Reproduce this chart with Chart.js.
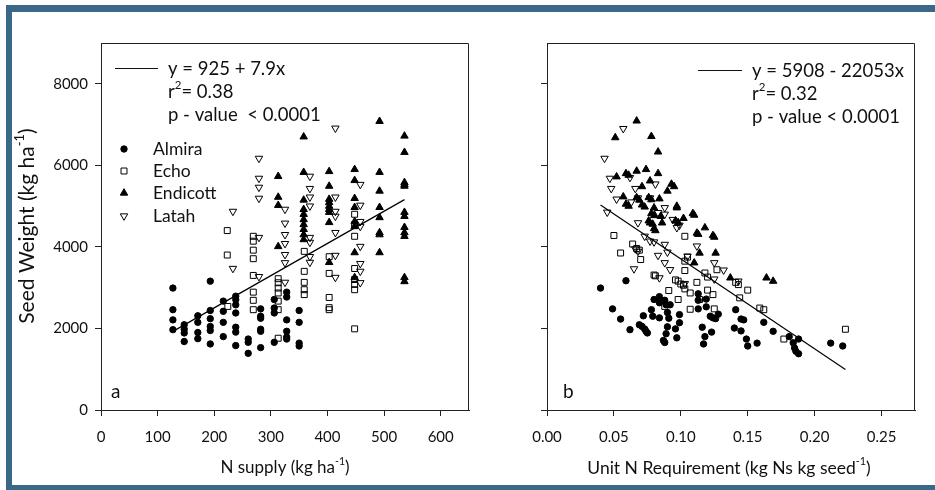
<!DOCTYPE html>
<html><head><meta charset="utf-8">
<script src="https://cdn.jsdelivr.net/npm/chart.js@4"></script>
<style>
html,body{margin:0;padding:0;background:#fff;}
#wrap{position:relative;width:935px;height:490px;overflow:hidden;background:#fff;}
.frame{position:absolute;background:#3a6888;}
canvas{position:absolute;top:0;}
</style></head><body>
<div id="wrap">
<div class="frame" style="left:6px;top:5px;width:929px;height:7px"></div>
<div class="frame" style="left:6px;top:5px;width:6px;height:485px"></div>
<div class="frame" style="left:6px;top:485px;width:929px;height:5px"></div>
<canvas id="cA" width="480" height="490" style="left:0"></canvas>
<canvas id="cB" width="455" height="490" style="left:480px"></canvas>
</div>
<script>
// ---------- data ----------
const cultivars = ['Almira', 'Echo', 'Endicott', 'Latah'];
const yTicks = [0, 2000, 4000, 6000, 8000];
const xTicksA = [0, 100, 200, 300, 400, 500, 600];
const xTicksB = [0, 0.05, 0.10, 0.15, 0.20, 0.25];

// Panel a: [N supply, seed weight]
const almiraA = [[127,2990],[127,2460],[127,2210],[127,1970],[147,2090],[147,1980],[147,1890],[147,1680],
 [171,2310],[171,2150],[171,1900],[171,1750],[193,3160],[193,2440],[193,2240],[193,2050],[193,1950],[193,1620],
 [216,2670],[216,2420],[216,2150],[216,1800],[238,2790],[238,2710],[238,2580],[238,2380],[238,2030],[238,1910],[238,1580],
 [260,1740],[260,1660],[260,1390],[282,2480],[282,2300],[282,2250],[282,1980],[282,1930],[282,1530],
 [306,2710],[306,2500],[306,2380],[306,1660],[328,2890],[328,2770],[328,2210],[328,1930],[328,1790],[328,1740],
 [350,2440],[350,2150],[350,1640],[350,1570]];
const echoA = [[223,4400],[223,3800],[224,2540],[269,4260],[269,4140],[269,3920],[269,3710],[269,3300],[269,2890],[269,2690],[269,2460],
 [313,3220],[313,3120],[313,2990],[313,2870],[313,2670],[313,2460],[313,1760],[359,3890],[359,3400],[359,3130],[359,2950],[359,2830],
 [403,3760],[403,3350],[403,2760],[403,2510],[403,2460],[448,4800],[448,4550],[448,4260],[448,3470],[448,3200],[448,3080],[448,2950],[448,1990]];
const endicottA = [[313,5730],[313,5220],[313,5020],[313,4010],
 [358,6700],[358,5830],[358,5150],[358,4920],[358,4800],[358,4670],[358,4550],[358,4430],[358,4300],[358,4180],
 [403,5850],[403,5490],[403,5170],[403,5090],[403,5000],[403,4920],[403,4850],[403,4600],[403,3620],
 [448,5900],[448,5630],[448,5190],[448,4970],[448,4620],[448,4500],[448,3860],[448,3250],
 [492,7080],[492,5830],[492,5370],[492,4970],[492,4720],[492,4350],[492,4300],[492,3860],
 [536,6720],[536,6320],[536,5580],[536,5530],[536,5490],[536,4850],[536,4750],[536,4480],[536,4350],[536,4260],[536,3250],[536,3150]];
const latahA = [[233,4870],[233,3470],[279,6170],[279,5680],[279,5460],[279,5190],[279,4230],[279,3270],
 [325,4920],[325,4580],[325,4300],[325,4080],[325,3810],[325,3610],[325,3130],
 [369,5730],[369,5430],[369,5220],[369,5000],[369,4230],[369,4110],[369,3760],[369,3620],
 [414,6910],[414,5220],[414,4870],[414,4750],[414,4350],[414,3790],[414,3250],
 [458,5530],[458,5020],[458,4620],[458,4500],[458,4010],[458,3590],[458,3400],[458,3120]];

// Panel b: [unit N requirement, seed weight]
const almiraB = [[0.040,2990],[0.049,2480],[0.055,2230],[0.059,3170],[0.062,1970],[0.069,2090],[0.071,2050],[0.073,1985],[0.074,1930],[0.075,1890],
 [0.072,2310],[0.078,2460],[0.079,2300],[0.080,2710],[0.084,2780],[0.084,2630],[0.084,2260],[0.088,2690],[0.089,2580],[0.090,2390],[0.091,2250],
 [0.092,2580],[0.090,2040],[0.089,1870],[0.087,1705],[0.088,1655],[0.096,1990],[0.097,1770],[0.099,2340],[0.099,2140],
 [0.113,2850],[0.113,2690],[0.113,2480],[0.119,2720],[0.119,2530],[0.122,2300],[0.124,2260],[0.126,2240],[0.128,2350],
 [0.116,2030],[0.118,1800],[0.117,1620],[0.123,1910],[0.141,2460],[0.145,2230],[0.147,2210],[0.140,2010],[0.145,1940],
 [0.149,1740],[0.150,1570],[0.157,1640],[0.162,2150],[0.169,1930],[0.181,1800],[0.184,1650],[0.185,1520],[0.186,1440],
 [0.188,1380],[0.188,1740],[0.212,1640],[0.221,1570]];
const echoB = [[0.050,4280],[0.055,3850],[0.064,4070],[0.067,3960],[0.069,3920],[0.070,3690],[0.080,3310],[0.081,3290],[0.088,2540],
 [0.091,2930],[0.096,3190],[0.098,3160],[0.098,2710],[0.100,3090],[0.102,3060],[0.103,2970],[0.103,3650],[0.103,3420],[0.103,4260],
 [0.105,3750],[0.107,2870],[0.112,3130],[0.114,2710],[0.107,2470],[0.118,3360],[0.120,3260],[0.120,2940],[0.124,2830],[0.125,2480],
 [0.127,3440],[0.141,3130],[0.143,3075],[0.144,2750],[0.150,2940],[0.159,2500],[0.162,2460],[0.177,1740],[0.223,1980]];
const endicottB = [[0.067,7090],[0.051,6680],[0.078,6710],[0.083,6330],[0.052,5720],[0.059,5800],[0.061,5760],[0.067,5860],[0.074,5900],
 [0.083,5800],[0.077,5620],[0.071,5480],[0.093,5540],[0.095,5480],[0.090,5370],[0.057,5230],[0.059,5050],[0.061,5000],[0.067,5210],
 [0.069,5150],[0.076,5210],[0.078,5160],[0.084,5180],[0.071,5030],[0.073,4980],[0.097,4960],[0.080,4960],[0.078,4820],[0.080,4770],
 [0.076,4640],[0.077,4590],[0.079,4560],[0.080,4450],[0.081,4400],[0.085,4750],[0.086,4590],[0.096,4640],[0.098,4600],[0.097,5000],
 [0.102,4700],[0.109,4820],[0.110,4780],[0.112,4340],[0.113,4310],[0.118,4470],[0.124,4280],[0.125,4240],[0.114,3850],[0.110,3610],
 [0.126,3850],[0.137,3240],[0.164,3240],[0.169,3160]];
const latahB = [[0.057,6900],[0.043,6170],[0.047,5680],[0.062,5700],[0.048,5430],[0.066,5430],[0.081,5540],[0.052,5170],[0.063,5100],
 [0.068,5200],[0.077,5200],[0.045,4850],[0.068,4590],[0.073,4260],[0.083,4840],[0.088,4960],[0.088,4800],[0.094,4670],[0.097,4470],
 [0.099,4530],[0.077,4140],[0.080,4120],[0.088,4060],[0.066,3950],[0.068,3890],[0.083,3790],[0.090,3870],[0.088,3610],[0.092,3440],
 [0.065,3460],[0.084,3240],[0.112,4020],[0.105,3770],[0.125,3610],[0.132,3430],[0.125,3210],[0.143,3160],[0.103,3100]];

// regression fits (intercept, slope)
const fitA = [925, 7.9];
const fitB = [5908, -22053];

// ---------- drawing ----------
const FONT = 'Lato, "Open Sans", sans-serif';
const styles = [
  {pointStyle:'circle', radius:3.2, rotation:0, fill:'#000'},
  {pointStyle:'rect', radius:4.2, rotation:0, fill:'rgba(0,0,0,0)'},
  {pointStyle:'triangle', radius:4.3, rotation:0, fill:'#000'},
  {pointStyle:'triangle', radius:4.3, rotation:180, fill:'rgba(0,0,0,0)'}
];

function toXY(arr){ return arr.map(p => ({x:p[0], y:p[1]})); }
function fitLine(series, fit){
  let xs = [];
  series.forEach(s => s.forEach(p => xs.push(p[0])));
  const lo = Math.min(...xs), hi = Math.max(...xs);
  return [{x:lo, y:fit[0]+fit[1]*lo}, {x:hi, y:fit[0]+fit[1]*hi}];
}

function rich(ctx, parts, x, y, size, align){
  const widths = parts.map(p => { ctx.font = (p[1] ? size*0.62 : size) + 'px ' + FONT; return ctx.measureText(p[0]).width; });
  const total = widths.reduce((a,b)=>a+b,0);
  let cx = align === 'center' ? x - total/2 : x;
  ctx.textAlign = 'left';
  ctx.textBaseline = 'middle';
  parts.forEach((p,i) => {
    ctx.font = (p[1] ? size*0.62 : size) + 'px ' + FONT;
    ctx.fillText(p[0], cx, p[1] ? y - size*0.36 : y);
    cx += widths[i];
  });
}

function frameBox(chart){
  const a = chart.chartArea, ctx = chart.ctx;
  ctx.save();
  ctx.strokeStyle = '#222'; ctx.lineWidth = 1;
  ctx.beginPath();
  ctx.moveTo(Math.round(a.left)+0.5, Math.round(a.top)+0.5);
  ctx.lineTo(Math.round(a.right)-0.5, Math.round(a.top)+0.5);
  ctx.lineTo(Math.round(a.right)-0.5, Math.round(a.bottom)+0.5);
  ctx.stroke();
  ctx.restore();
}

function makeChart(id, series, fit, xMin, xMax, xTicks, yWidth, rightPad, showYLabels, xFmt, extraDraw){
  const datasets = series.map((s,i) => ({
    type:'scatter', label:cultivars[i], data:toXY(s),
    pointStyle:styles[i].pointStyle, pointRadius:styles[i].radius, pointRotation:styles[i].rotation,
    pointBackgroundColor:styles[i].fill, pointBorderColor:'#000', pointBorderWidth:1, order:2
  }));
  datasets.push({type:'line', data:fitLine(series, fit), borderColor:'#000', borderWidth:1.2,
    pointRadius:0, fill:false, order:1});
  return new Chart(document.getElementById(id), {
    data:{datasets},
    options:{
      responsive:false, animation:false, devicePixelRatio:1,
      layout:{padding:{left:0, top:43, right:rightPad, bottom:0}},
      plugins:{legend:{display:false}, tooltip:{enabled:false}},
      scales:{
        x:{type:'linear', position:'bottom', min:xMin, max:xMax,
          afterBuildTicks:s => { s.ticks = xTicks.map(v => ({value:v})); },
          afterFit:s => { s.height = 80; },
          grid:{drawOnChartArea:false, drawTicks:true, tickLength:6, color:'#222', lineWidth:1},
          border:{display:true, color:'#222', width:1},
          ticks:{color:'#111', font:{family:FONT, size:15}, padding:12, maxRotation:0, autoSkip:false,
            callback:v => xFmt(v)}},
        y:{type:'linear', position:'left', min:0, max:9000,
          afterBuildTicks:s => { s.ticks = yTicks.map(v => ({value:v})); },
          afterFit:s => { s.width = yWidth; },
          grid:{drawOnChartArea:false, drawTicks:true, tickLength:6, color:'#222', lineWidth:1},
          border:{display:true, color:'#222', width:1},
          ticks:{display:showYLabels, color:'#111', font:{family:FONT, size:15}, padding:7, autoSkip:false,
            callback:v => String(v)}}
      }
    },
    plugins:[{id:'deco', afterDraw(chart){ frameBox(chart); const ctx = chart.ctx; ctx.save(); ctx.fillStyle = '#111'; ctx.strokeStyle = '#111'; extraDraw(ctx); ctx.restore(); }}]
  });
}

function legendMarker(ctx, st, x, y){
  ctx.save();
  ctx.fillStyle = st.fill; ctx.strokeStyle = '#000'; ctx.lineWidth = 1;
  Chart.helpers.drawPoint(ctx, {pointStyle:st.pointStyle, radius:st.radius, rotation:st.rotation, borderWidth:1}, x, y);
  ctx.restore();
}

makeChart('cA', [almiraA, echoA, endicottA, latahA], fitA, 0, 650, xTicksA, 101, 11, true, v => String(v), ctx => {
  ctx.lineWidth = 1.2;
  ctx.beginPath(); ctx.moveTo(115, 68.5); ctx.lineTo(158, 68.5); ctx.stroke();
  rich(ctx, [['y = 925 + 7.9x', false]], 168, 69, 18.5);
  rich(ctx, [['r', false], ['2', true], ['= 0.38', false]], 168, 92, 18.5);
  rich(ctx, [['p - value  < 0.0001', false]], 168, 115, 18.5);
  const rows = [149, 171, 193, 216];
  cultivars.forEach((c,i) => {
    legendMarker(ctx, styles[i], 124, rows[i]);
    rich(ctx, [[c, false]], 153, rows[i], 17.5);
  });
  rich(ctx, [['a', false]], 111, 392, 19);
  rich(ctx, [['N supply (kg ha', false], ['-1', true], [')', false]], 285, 468, 17, 'center');
  ctx.save(); ctx.translate(27, 226); ctx.rotate(-Math.PI/2);
  rich(ctx, [['Seed Weight (kg ha', false], ['-1', true], [')', false]], 0, 0, 21, 'center');
  ctx.restore();
});

makeChart('cB', [almiraB, echoB, endicottB, latahB], fitB, 0, 0.275, xTicksB, 67, 20, false, v => v.toFixed(2), ctx => {
  ctx.lineWidth = 1.2;
  ctx.beginPath(); ctx.moveTo(218, 70.5); ctx.lineTo(262, 70.5); ctx.stroke();
  rich(ctx, [['y = 5908 - 22053x', false]], 272, 71, 18.5);
  rich(ctx, [['r', false], ['2', true], ['= 0.32', false]], 272, 94, 18.5);
  rich(ctx, [['p - value < 0.0001', false]], 272, 117, 18.5);
  rich(ctx, [['b', false]], 83, 392, 19);
  rich(ctx, [['Unit N Requirement (kg Ns kg seed', false], ['-1', true], [')', false]], 249, 468, 17.5, 'center');
});
</script>
</body></html>
